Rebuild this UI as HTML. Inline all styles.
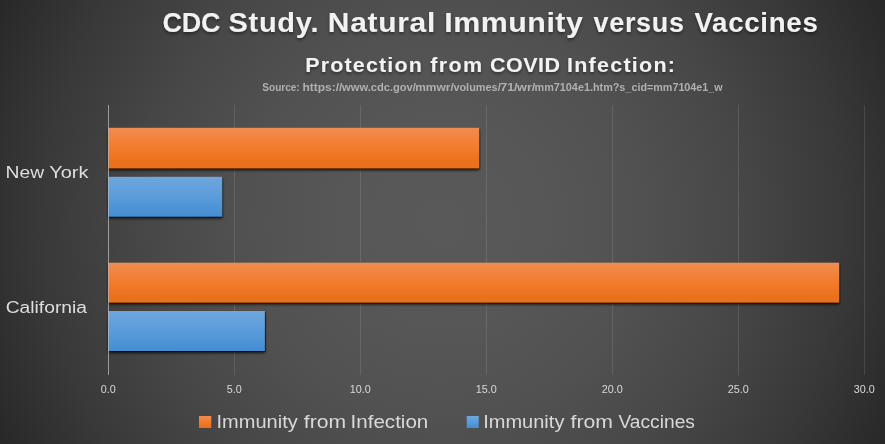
<!DOCTYPE html>
<html lang="en">
<head>
<meta charset="utf-8">
<title>CDC Study. Natural Immunity versus Vaccines</title>
<style>
  html, body { margin: 0; padding: 0; background: #272727; }
  #chart {
    position: relative; width: 885px; height: 444px; overflow: hidden;
    background: radial-gradient(circle 500px at 442.5px 222px,
      #595959 0%, #585858 10%, #575757 20%, #545454 30%, #515151 40%,
      #4c4c4c 50%, #474747 60%, #404040 70%, #393939 80%, #303030 90%, #272727 100%);
  }
  svg { position: absolute; left: 0; top: 0; display: block; }
  text { font-family: "Liberation Sans", sans-serif; }
  .b { font-weight: bold; }
</style>
</head>
<body>
<div id="chart">
<svg width="885" height="444" viewBox="0 0 885 444">
  <defs>
    <linearGradient id="go" x1="0" y1="0" x2="0" y2="1">
      <stop offset="0" stop-color="#F08C53"/>
      <stop offset="0.5" stop-color="#F37B2B"/>
      <stop offset="0.88" stop-color="#E8701C"/>
      <stop offset="1" stop-color="#EC7016"/>
    </linearGradient>
    <linearGradient id="gb" x1="0" y1="0" x2="0" y2="1">
      <stop offset="0" stop-color="#6FA6DD"/>
      <stop offset="0.5" stop-color="#5A9CDB"/>
      <stop offset="0.85" stop-color="#4B91D3"/>
      <stop offset="1" stop-color="#428ED6"/>
    </linearGradient>
    <filter id="sh" x="-5%" y="-30%" width="110%" height="160%">
      <feGaussianBlur in="SourceAlpha" stdDeviation="1.7" result="b"/>
      <feOffset in="b" dx="0.4" dy="1.6" result="o"/>
      <feComponentTransfer in="o" result="s1"><feFuncA type="linear" slope="0.8"/></feComponentTransfer>
      <feOffset in="SourceAlpha" dx="0.9" dy="0.9" result="e"/>
      <feComponentTransfer in="e" result="s2"><feFuncA type="linear" slope="0.5"/></feComponentTransfer>
      <feMerge><feMergeNode in="s1"/><feMergeNode in="s2"/><feMergeNode in="SourceGraphic"/></feMerge>
    </filter>
    <filter id="ts" x="-5%" y="-30%" width="110%" height="180%">
      <feGaussianBlur in="SourceAlpha" stdDeviation="1.6"/>
      <feOffset dx="0" dy="1.5"/>
      <feComponentTransfer><feFuncA type="linear" slope="0.42"/></feComponentTransfer>
      <feMerge><feMergeNode/><feMergeNode in="SourceGraphic"/></feMerge>
    </filter>
  </defs>

  <!-- gridlines -->
  <g fill="#ffffff" fill-opacity="0.11">
    <rect x="234" y="105" width="1" height="270"/>
    <rect x="360" y="105" width="1" height="270"/>
    <rect x="486" y="105" width="1" height="270"/>
    <rect x="612" y="105" width="1" height="270"/>
    <rect x="738" y="105" width="1" height="270"/>
    <rect x="864" y="105" width="1" height="270"/>
  </g>

  <!-- bars -->
  <g filter="url(#sh)">
    <rect x="108.5" y="127.8" width="370.6" height="40.4" fill="url(#go)"/>
    <rect x="108.5" y="176.8" width="113.6" height="39.7" fill="url(#gb)"/>
    <rect x="108.5" y="262.7" width="730.6" height="39.7" fill="url(#go)"/>
    <rect x="108.5" y="311" width="156.3" height="40" fill="url(#gb)"/>
  </g>

  <!-- axis line -->
  <rect x="108" y="105" width="1" height="270" fill="#d9d9d9" fill-opacity="0.6"/>

  <!-- titles -->
  <g filter="url(#ts)" fill="#f2f2f2" class="b">
    <text y="31.7" font-size="27" transform="scale(1.0 1)" x="162.50" textLength="58.00" lengthAdjust="spacing">CDC</text>
    <text y="31.7" font-size="27" transform="scale(1.075 1)" x="212.56" textLength="83.72" lengthAdjust="spacing">Study.</text>
    <text y="31.7" font-size="27" transform="scale(1.11 1)" x="295.32" textLength="96.85" lengthAdjust="spacing">Natural</text>
    <text y="31.7" font-size="27" transform="scale(1.126 1)" x="394.58" textLength="123.1" lengthAdjust="spacing">Immunity</text>
    <text y="31.7" font-size="27" transform="scale(1.0 1)" x="593.50" textLength="90.50" lengthAdjust="spacing">versus</text>
    <text y="31.7" font-size="27" transform="scale(1.025 1)" x="677.56" textLength="120.29" lengthAdjust="spacing">Vaccines</text>
    <text y="71.9" font-size="21.1" transform="scale(1.02 1)"><tspan x="299.31" textLength="114.22" lengthAdjust="spacing">Protection</tspan> <tspan x="421.76" textLength="50.98" lengthAdjust="spacing">from</tspan> <tspan x="480.39" textLength="68.63" lengthAdjust="spacing">COVID</tspan> <tspan x="555.88" textLength="105.88" lengthAdjust="spacing">Infection:</tspan></text>
  </g>
  <text class="b" y="90.5" font-size="10" fill="#b0b0b0"><tspan x="262.3" textLength="37.4" lengthAdjust="spacingAndGlyphs">Source:</tspan> <tspan x="302.4" textLength="40.0" lengthAdjust="spacingAndGlyphs">https://</tspan><tspan x="342.1" textLength="73.8" lengthAdjust="spacingAndGlyphs">www.cdc.gov/</tspan><tspan x="415.2" textLength="38.6" lengthAdjust="spacingAndGlyphs">mmwr/</tspan><tspan x="453.4" textLength="47.3" lengthAdjust="spacingAndGlyphs">volumes/</tspan><tspan x="500.2" textLength="17.4" lengthAdjust="spacingAndGlyphs">71/</tspan><tspan x="517.1" textLength="18.3" lengthAdjust="spacingAndGlyphs">wr/</tspan><tspan x="534.6" textLength="96.8" lengthAdjust="spacingAndGlyphs">mm7104e1.htm?s_</tspan><tspan x="631.5" textLength="91.1" lengthAdjust="spacingAndGlyphs">cid=mm7104e1_w</tspan></text>

  <!-- category labels -->
  <g fill="#dedede" font-size="17.3">
    <text y="177.6"><tspan x="5.6" textLength="38.6" lengthAdjust="spacingAndGlyphs">New</tspan> <tspan x="49.2" textLength="39.2" lengthAdjust="spacingAndGlyphs">York</tspan></text>
    <text x="5.7" y="312.6" textLength="81.3" lengthAdjust="spacingAndGlyphs">California</text>
  </g>

  <!-- tick labels -->
  <g fill="#d9d9d9" font-size="10.8" text-anchor="middle">
    <text x="108.3" y="392.8">0.0</text>
    <text x="234.3" y="392.8">5.0</text>
    <text x="360.3" y="392.8">10.0</text>
    <text x="486.3" y="392.8">15.0</text>
    <text x="612.3" y="392.8">20.0</text>
    <text x="738.3" y="392.8">25.0</text>
    <text x="864.3" y="392.8">30.0</text>
  </g>

  <!-- legend -->
  <rect x="199" y="416" width="12.3" height="12" fill="url(#go)"/>
  <rect x="466.7" y="416" width="12" height="12" fill="url(#gb)"/>
  <g fill="#d9d9d9" font-size="18.9">
    <text y="427.8"><tspan x="216.5" textLength="81.2" lengthAdjust="spacingAndGlyphs">Immunity</tspan> <tspan x="303.8" textLength="42.3" lengthAdjust="spacingAndGlyphs">from</tspan> <tspan x="350.6" textLength="77.7" lengthAdjust="spacingAndGlyphs">Infection</tspan></text>
    <text y="427.8"><tspan x="483.2" textLength="81.2" lengthAdjust="spacingAndGlyphs">Immunity</tspan> <tspan x="570.5" textLength="42.5" lengthAdjust="spacingAndGlyphs">from</tspan> <tspan x="618.5" textLength="76.4" lengthAdjust="spacingAndGlyphs">Vaccines</tspan></text>
  </g>
</svg>
</div>
</body>
</html>
